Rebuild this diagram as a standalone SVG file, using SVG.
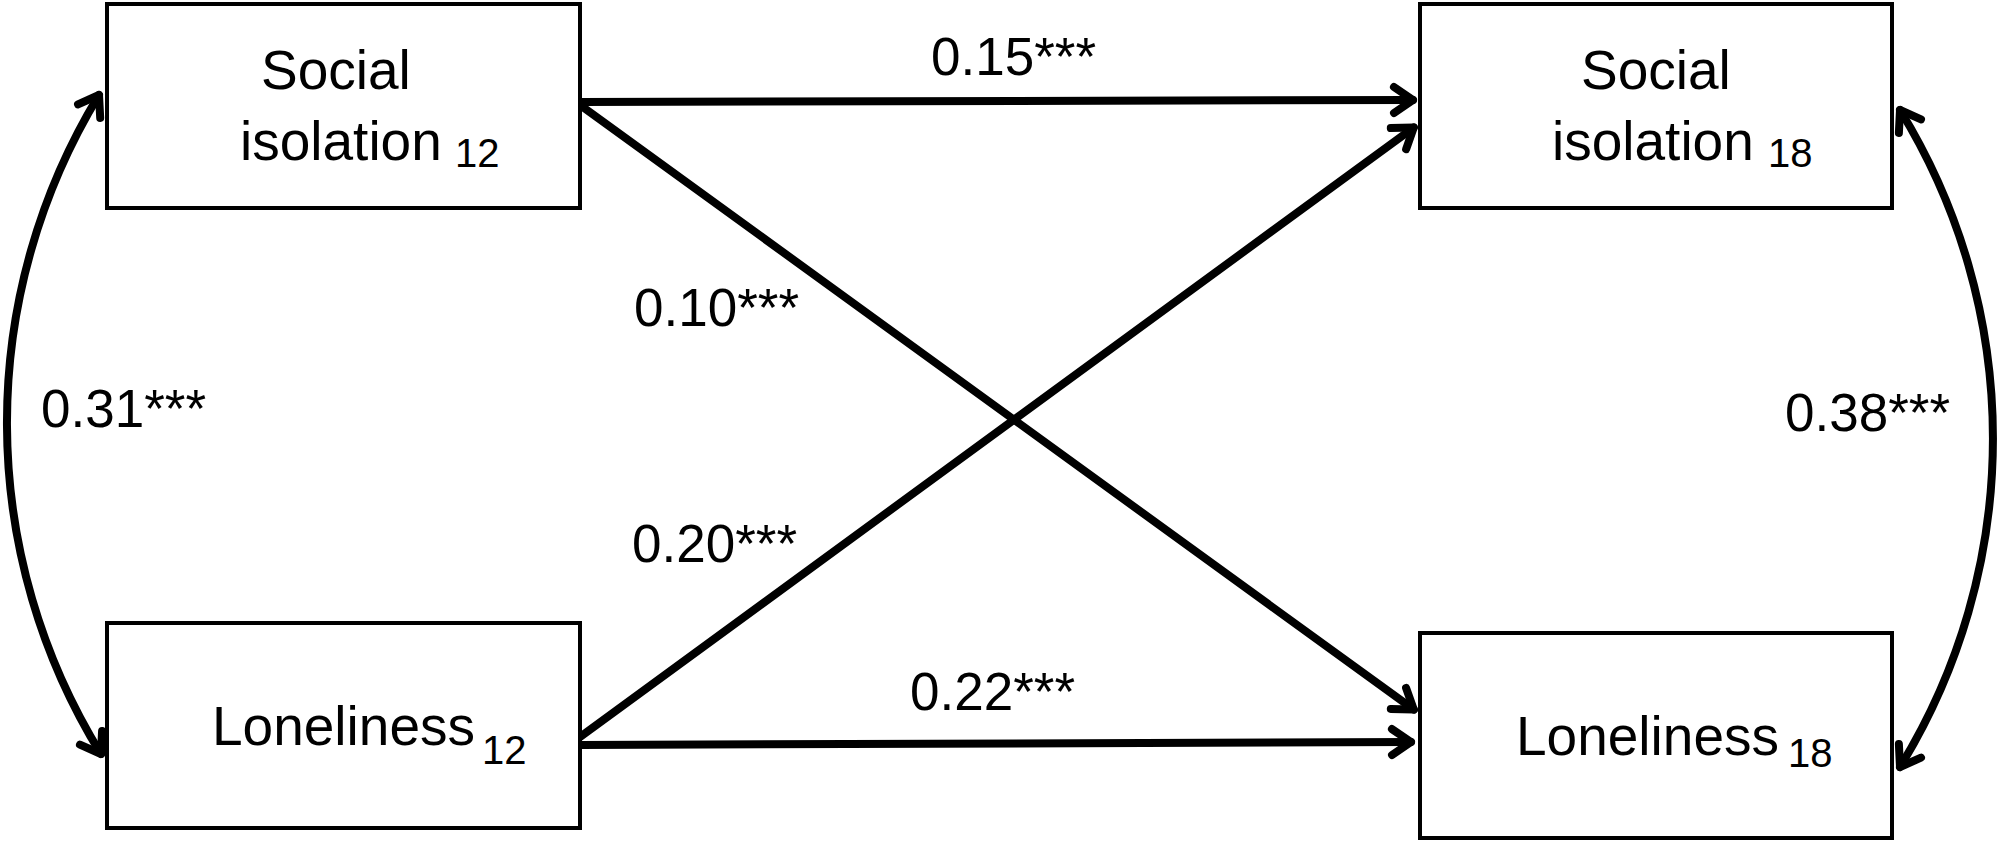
<svg xmlns="http://www.w3.org/2000/svg" width="2000" height="841" viewBox="0 0 2000 841">
<style>
.box{fill:#fff;stroke:#000;stroke-width:4}
.t{font-family:"Liberation Sans",Arial,sans-serif;font-size:55px;fill:#000}
.sub{font-family:"Liberation Sans",Arial,sans-serif;font-size:40px;fill:#000}
.lbl{font-family:"Liberation Sans",Arial,sans-serif;font-size:53px;fill:#000}
.line{fill:none;stroke:#000;stroke-width:8;stroke-linecap:round;marker-end:url(#ah)}
.curve{fill:none;stroke:#000;stroke-width:8;stroke-linecap:round;marker-start:url(#ah);marker-end:url(#ah)}
</style>
<defs>
<marker id="ah" markerUnits="userSpaceOnUse" viewBox="-30 -20 40 40" markerWidth="40" markerHeight="40" refX="0" refY="0" orient="auto-start-reverse" overflow="visible">
<path d="M -19 -13 L 0 0 L -19 13" fill="none" stroke="#000" stroke-width="8" stroke-linecap="round" stroke-linejoin="round"/>
</marker>
</defs>
<rect width="2000" height="841" fill="#fff"/>
<g id="connectors">
<path class="line" d="M 580 102 L 1413 100"/>
<path class="line" d="M 580 105 L 1413.8 709.6"/>
<path class="line" d="M 580 737 L 1413.8 127.4"/>
<path class="line" d="M 580 745 L 1411 742"/>
<path class="curve" d="M 99 95 A 630 630 0 0 0 101 754"/>
<path class="curve" d="M 1900 110 A 627 627 0 0 1 1900 767"/>
</g>
<g id="labels">
<text class="lbl" x="931" y="75">0.15***</text>
<text class="lbl" x="634" y="326">0.10***</text>
<text class="lbl" x="632" y="562">0.20***</text>
<text class="lbl" x="910" y="710">0.22***</text>
<text class="lbl" x="41" y="427">0.31***</text>
<text class="lbl" x="1785" y="431">0.38***</text>
</g>
<g id="si12">
<rect class="box" x="107" y="4" width="473" height="204"/>
<text class="t" x="261" y="89">Social</text>
<text class="t" x="240" y="160">isolation</text>
<text class="sub" x="455" y="167">12</text>
</g>
<g id="si18">
<rect class="box" x="1420" y="4" width="472" height="204"/>
<text class="t" x="1581" y="89">Social</text>
<text class="t" x="1552" y="160">isolation</text>
<text class="sub" x="1768" y="167">18</text>
</g>
<g id="lon12">
<rect class="box" x="107" y="623" width="473" height="205"/>
<text class="t" x="212" y="745">Loneliness</text>
<text class="sub" x="482" y="764">12</text>
</g>
<g id="lon18">
<rect class="box" x="1420" y="633" width="472" height="205"/>
<text class="t" x="1516" y="755">Loneliness</text>
<text class="sub" x="1788" y="767">18</text>
</g>
</svg>
